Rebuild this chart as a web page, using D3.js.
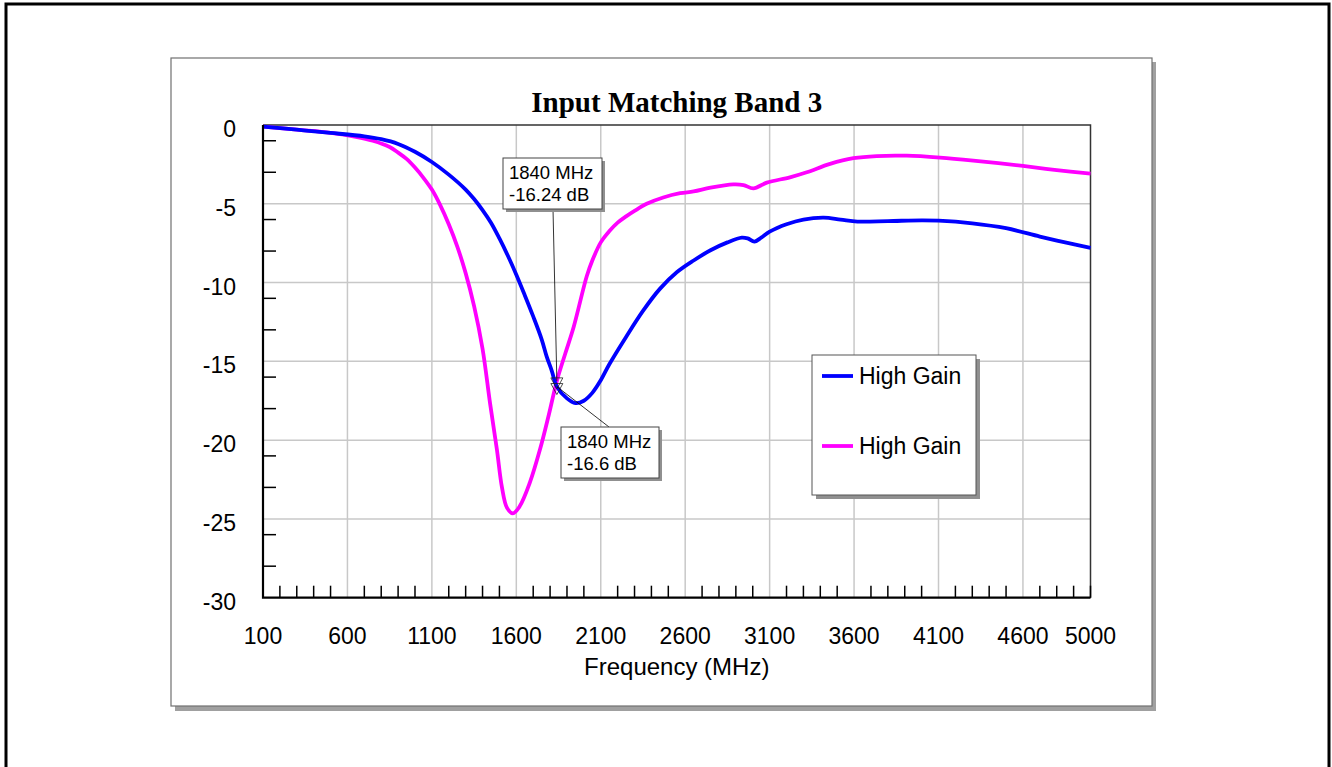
<!DOCTYPE html>
<html lang="en">

<head>
    <script src="https://d3js.org/d3.v7.min.js"></script>
    <title>Input Matching Band 3</title>
    <style>
        body {
            margin: 0;
            background: white;
        }

        text {
            font-family: "Liberation Sans", Arial, sans-serif;
            fill: black;
        }

        .grid line {
            stroke: #c8c8c8;
            stroke-width: 1.5;
        }
    </style>
</head>

<body>
    <svg id="chart" width="1332" height="767"></svg>

    <script>
        // frequency in MHz, S11 in dB
        const blueFreq = [100, 300, 500, 700, 800, 900, 1000, 1100, 1200, 1300, 1350, 1400, 1450, 1500, 1550, 1600,
            1650, 1700, 1750, 1780, 1810, 1840, 1900, 1950, 2000, 2050, 2100, 2150, 2250, 2350, 2450, 2550, 2650,
            2750, 2850, 2935, 2970, 3010, 3050, 3100, 3200, 3300, 3420, 3520, 3620, 3800, 4000, 4100, 4300, 4500,
            4700, 4850, 5000];
        const blueDb = [-0.1, -0.3, -0.5, -0.72, -0.9, -1.2, -1.7, -2.35, -3.15, -4.1, -4.7, -5.4, -6.2, -7.2, -8.3, -9.5,
            -10.8, -12.15, -13.6, -14.7, -15.6, -16.6, -17.35, -17.65, -17.5, -17.0, -16.2, -15.2, -13.45, -11.8, -10.4, -9.35, -8.6,
            -7.95, -7.45, -7.15, -7.2, -7.4, -7.15, -6.77, -6.3, -6.0, -5.88, -6.0, -6.13, -6.1, -6.05, -6.07, -6.24, -6.55,
            -7.08, -7.45, -7.8];

        const magentaFreq = [100, 300, 500, 650, 750, 850, 900, 950, 1000, 1050, 1100, 1150, 1200, 1250, 1300, 1350,
            1400, 1445, 1485, 1515, 1545, 1580, 1620, 1680, 1740, 1790, 1840, 1890, 1940, 2017, 2050, 2100, 2150,
            2200, 2250, 2300, 2372, 2470, 2570, 2650, 2750, 2885, 2945, 3004, 3083, 3220, 3320, 3458, 3596, 3734,
            3912, 4109, 4306, 4600, 4800, 5000];
        const magentaDb = [-0.1, -0.3, -0.5, -0.75, -1.0, -1.4, -1.75, -2.15, -2.7, -3.35, -4.1, -5.1, -6.3, -7.7, -9.4, -11.5,
            -14.2, -17.7, -20.6, -23.0, -24.3, -24.65, -24.2, -22.7, -20.6, -18.5, -16.24, -14.5, -12.8, -9.6, -8.6, -7.45, -6.75,
            -6.2, -5.8, -5.45, -5.0, -4.6, -4.33, -4.22, -3.98, -3.77, -3.81, -4.02, -3.66, -3.32, -3.0, -2.47, -2.11, -1.97,
            -1.95, -2.07, -2.26, -2.6, -2.86, -3.08];

        const seriesNames = ["High Gain", "High Gain"];
        const seriesColors = ["#0000ff", "#ff00ff"];

        const xLabels = [100, 600, 1100, 1600, 2100, 2600, 3100, 3600, 4100, 4600, 5000];
        const xGrid = [600, 1100, 1600, 2100, 2600, 3100, 3600, 4100, 4600];
        const xMinor = d3.range(200, 5001, 100).filter(v => (v - 100) % 500 !== 0);
        const yLabels = [0, -5, -10, -15, -20, -25, -30];
        const yGrid = [-5, -10, -15, -20, -25];
        const yMinor = [-1, -3, -6, -8, -11, -13, -16, -18, -21, -23, -26, -28];

        // marker readouts: [freq, dB]
        const markers = [[1840, -16.24], [1840, -16.6]];

        const svg = d3.select("#chart");

        // outer frame
        svg.append("rect")
            .attr("x", 6).attr("y", 4)
            .attr("width", 1323).attr("height", 820)
            .attr("fill", "white")
            .attr("stroke", "black")
            .attr("stroke-width", 3);

        // chart panel with drop shadow
        svg.append("rect")
            .attr("x", 175).attr("y", 62)
            .attr("width", 981).attr("height", 649)
            .attr("fill", "#a0a0a0");
        svg.append("rect")
            .attr("x", 171).attr("y", 58)
            .attr("width", 981).attr("height", 648)
            .attr("fill", "white")
            .attr("stroke", "#707070")
            .attr("stroke-width", 1.2);

        const plotLeft = 263, plotRight = 1090.5, plotTop = 125, plotBottom = 597.7;

        const x = d3.scaleLinear().domain([100, 5000]).range([plotLeft, plotRight]);
        const y = d3.scaleLinear().domain([-30, 0]).range([plotBottom, plotTop]);

        svg.append("text")
            .attr("x", (plotLeft + plotRight) / 2)
            .attr("y", 112)
            .attr("text-anchor", "middle")
            .style("font-family", "'Liberation Serif', 'Times New Roman', serif")
            .style("font-weight", "bold")
            .style("font-size", "29px")
            .text("Input Matching Band 3");

        // grid
        const grid = svg.append("g").attr("class", "grid");
        grid.selectAll(".gx")
            .data(xGrid)
            .enter().append("line")
            .attr("x1", d => x(d)).attr("x2", d => x(d))
            .attr("y1", plotTop).attr("y2", plotBottom);
        grid.selectAll(".gy")
            .data(yGrid)
            .enter().append("line")
            .attr("x1", plotLeft).attr("x2", plotRight)
            .attr("y1", d => y(d)).attr("y2", d => y(d));

        // top and right border
        svg.append("path")
            .attr("d", `M${plotLeft},${plotTop}H${plotRight}V${plotBottom}`)
            .attr("fill", "none")
            .attr("stroke", "#333")
            .attr("stroke-width", 1.5);

        // minor ticks, drawn inward
        svg.selectAll(".xt")
            .data(xMinor)
            .enter().append("line")
            .attr("x1", d => x(d)).attr("x2", d => x(d))
            .attr("y1", plotBottom).attr("y2", plotBottom - 12)
            .attr("stroke", "black")
            .attr("stroke-width", 1.5);
        svg.selectAll(".yt")
            .data(yMinor)
            .enter().append("line")
            .attr("x1", plotLeft).attr("x2", plotLeft + 13)
            .attr("y1", d => y(d)).attr("y2", d => y(d))
            .attr("stroke", "black")
            .attr("stroke-width", 1.5);

        // curves
        const line = d3.line()
            .x(d => x(d[0]))
            .y(d => y(d[1]))
            .curve(d3.curveCatmullRom.alpha(0.5));

        const series = [
            d3.zip(blueFreq, blueDb),
            d3.zip(magentaFreq, magentaDb)
        ];

        // magenta drawn first, blue on top
        [1, 0].forEach(i => {
            svg.append("path")
                .datum(series[i])
                .attr("d", line)
                .attr("fill", "none")
                .attr("stroke", seriesColors[i])
                .attr("stroke-width", 3.8)
                .attr("stroke-linejoin", "round");
        });

        // axis lines
        svg.append("path")
            .attr("d", `M${plotLeft},${plotTop}V${plotBottom}H${plotRight}`)
            .attr("fill", "none")
            .attr("stroke", "black")
            .attr("stroke-width", 2.2);

        // tick labels
        svg.selectAll(".xl")
            .data(xLabels)
            .enter().append("text")
            .attr("x", d => x(d))
            .attr("y", 644)
            .attr("text-anchor", "middle")
            .style("font-size", "23px")
            .text(d => d);
        svg.selectAll(".yl")
            .data(yLabels)
            .enter().append("text")
            .attr("x", 236)
            .attr("y", d => y(d) + 12)
            .attr("text-anchor", "end")
            .style("font-size", "23px")
            .text(d => d);

        svg.append("text")
            .attr("x", (plotLeft + plotRight) / 2)
            .attr("y", 675)
            .attr("text-anchor", "middle")
            .style("font-size", "24px")
            .text("Frequency (MHz)");

        // marker callouts
        const boxes = [
            { x: 503, y: 158, w: 99, h: 51, lx: 553, ly: 209 },
            { x: 561, y: 427, w: 98, h: 51, lx: 609, ly: 427 }
        ];

        markers.forEach((m, i) => {
            const px = x(m[0]), py = y(m[1]);
            const b = boxes[i];
            svg.append("line")
                .attr("x1", b.lx).attr("y1", b.ly)
                .attr("x2", px).attr("y2", py)
                .attr("stroke", "black")
                .attr("stroke-width", 0.8);
            svg.append("path")
                .attr("d", `M${px - 6},${py - 3}H${px + 6}L${px},${py + 8}Z`)
                .attr("fill", "none")
                .attr("stroke", "#222")
                .attr("stroke-width", 0.8);
            svg.append("rect")
                .attr("x", b.x + 3).attr("y", b.y + 3)
                .attr("width", b.w).attr("height", b.h)
                .attr("fill", "#909090");
            svg.append("rect")
                .attr("x", b.x).attr("y", b.y)
                .attr("width", b.w).attr("height", b.h)
                .attr("fill", "white")
                .attr("stroke", "#444")
                .attr("stroke-width", 1);
            svg.append("text")
                .attr("x", b.x + 6).attr("y", b.y + 21)
                .style("font-size", "18.5px")
                .text(`${m[0]} MHz`);
            svg.append("text")
                .attr("x", b.x + 6).attr("y", b.y + 43)
                .style("font-size", "18.5px")
                .text(`${m[1]} dB`);
        });

        // legend
        const legend = svg.append("g").attr("transform", "translate(812,355)");
        legend.append("rect")
            .attr("x", 4).attr("y", 4)
            .attr("width", 164).attr("height", 140)
            .attr("fill", "#909090");
        legend.append("rect")
            .attr("width", 164).attr("height", 140)
            .attr("fill", "white")
            .attr("stroke", "#555")
            .attr("stroke-width", 1);

        seriesNames.forEach((name, i) => {
            const ly = 21 + i * 70;
            legend.append("line")
                .attr("x1", 10).attr("x2", 41)
                .attr("y1", ly).attr("y2", ly)
                .attr("stroke", seriesColors[i])
                .attr("stroke-width", 3.8);
            legend.append("text")
                .attr("x", 47).attr("y", ly + 8)
                .style("font-size", "23px")
                .text(name);
        });
    </script>
</body>

</html>
